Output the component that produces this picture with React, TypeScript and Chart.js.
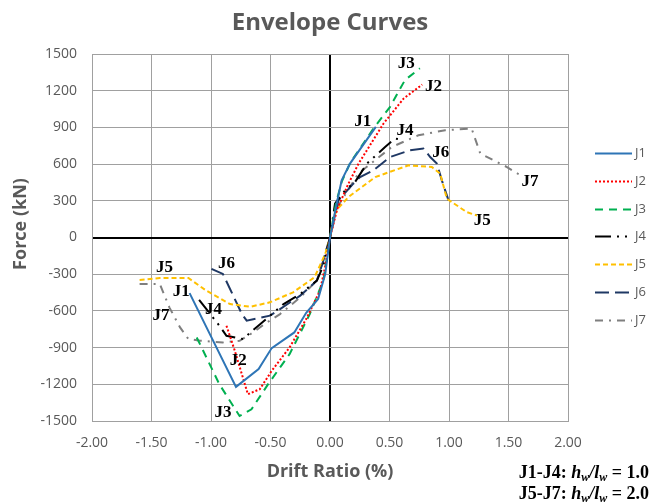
import React, { useEffect, useRef } from "react";
import { Chart, registerables } from "chart.js";

Chart.register(...registerables);

const TITLE = "Envelope Curves";
const X_TITLE = "Drift Ratio (%)";
const Y_TITLE = "Force (kN)";
const SERIES_NAMES = ["J1", "J2", "J3", "J4", "J5", "J6", "J7"];

const J1_DRIFT = [-1.18, -0.79, -0.6, -0.49, -0.3, -0.2, -0.1, -0.04, 0, 0.056, 0.098, 0.168, 0.385];
const J1_FORCE = [-455, -1221, -1076, -904, -776, -615, -503, -298, 0, 276, 467, 604, 904];

const J2_DRIFT = [-0.87, -0.8, -0.69, -0.59, -0.49, -0.34, -0.2, -0.084, -0.042, 0, 0.06, 0.15, 0.24, 0.45, 0.62, 0.775];
const J2_FORCE = [-721, -926, -1281, -1240, -1090, -899, -667, -434, -243, 0, 230, 430, 604, 932, 1137, 1250];

const J3_DRIFT = [-1.12, -0.93, -0.76, -0.66, -0.52, -0.34, -0.17, -0.056, 0, 0.05, 0.1, 0.17, 0.365, 0.505, 0.63, 0.755];
const J3_FORCE = [-817, -1199, -1459, -1404, -1199, -954, -626, -352, 0, 280, 460, 610, 891, 1068, 1287, 1383];

const J4_DRIFT = [-1.1, -0.94, -0.87, -0.73, -0.62, -0.52, -0.39, -0.25, -0.11, -0.056, 0, 0.042, 0.126, 0.21, 0.31, 0.463, 0.547, 0.6];
const J4_FORCE = [-510, -708, -803, -830, -735, -653, -544, -462, -352, -230, 0, 276, 385, 453, 604, 740, 809, 800];

const J5_DRIFT = [-1.6, -1.43, -1.19, -1.04, -0.84, -0.67, -0.505, -0.31, -0.13, -0.04, 0, 0.03, 0.07, 0.154, 0.38, 0.66, 0.856, 0.926, 0.982, 1.15, 1.235];
const J5_FORCE = [-347, -331, -331, -434, -544, -566, -530, -448, -325, -134, 0, 170, 240, 330, 494, 590, 576, 522, 317, 207, 180];

const J6_DRIFT = [-0.996, -0.9, -0.74, -0.7, -0.505, -0.42, -0.25, -0.11, -0.056, 0, 0.07, 0.196, 0.253, 0.365, 0.505, 0.673, 0.785, 0.842, 0.898, 0.94, 0.996];
const J6_FORCE = [-257, -298, -626, -680, -639, -585, -475, -352, -189, 0, 303, 440, 494, 549, 658, 713, 727, 658, 604, 467, 303];

const J7_DRIFT = [-1.6, -1.43, -1.35, -1.26, -1.19, -1.09, -0.9, -0.76, -0.645, -0.53, -0.42, -0.25, -0.11, 0, 0.05, 0.238, 0.519, 0.743, 0.968, 1.19, 1.263, 1.487, 1.6];
const J7_FORCE = [-380, -380, -571, -735, -830, -844, -858, -844, -776, -694, -626, -489, -352, 0, 230, 522, 740, 836, 877, 891, 686, 576, 508];

const X_TICKS_MIN = -2;
const X_TICKS_MAX = 2;
const X_STEP = 0.5;
const Y_TICKS_MIN = -1500;
const Y_TICKS_MAX = 1500;
const Y_STEP = 300;

// On-chart label anchors (data units)
const LABEL_TEXT = ["J3", "J2", "J1", "J4", "J6", "J7", "J5", "J5", "J6", "J1", "J4", "J7", "J2", "J3"];
const LABEL_DRIFT = [0.64, 0.87, 0.275, 0.63, 0.93, 1.68, 1.28, -1.39, -0.87, -1.25, -0.98, -1.42, -0.77, -0.9];
const LABEL_FORCE = [1418, 1232, 945, 871, 691, 453, 139, -243, -216, -443, -593, -639, -1008, -1432];

const NOTE_GROUPS = ["J1-J4: ", "J5-J7: "];
const NOTE_RATIOS = [" = 1.0", " = 2.0"];

const COLORS = ["#2E75B6", "#FF0000", "#00B050", "#000000", "#FFC000", "#1F3864", "#7F7F7F"];
const DASHES: number[][] = [[], [2, 2], [8, 6], [16, 6, 2, 6, 2, 6], [5, 3], [14, 6], [8, 6, 2, 6]];

const DRIFTS = [J1_DRIFT, J2_DRIFT, J3_DRIFT, J4_DRIFT, J5_DRIFT, J6_DRIFT, J7_DRIFT];
const FORCES = [J1_FORCE, J2_FORCE, J3_FORCE, J4_FORCE, J5_FORCE, J6_FORCE, J7_FORCE];

const GRID = "#a0a0a0";
const TEXT_GRAY = "#595959";

type Part = { t: string; f: string; dy?: number };

function richWidth(ctx: CanvasRenderingContext2D, parts: Part[]) {
  let w = 0;
  for (const p of parts) {
    ctx.font = p.f;
    w += ctx.measureText(p.t).width;
  }
  return w;
}

function drawRich(ctx: CanvasRenderingContext2D, parts: Part[], xLeft: number, y: number) {
  let x = xLeft;
  for (const p of parts) {
    ctx.font = p.f;
    ctx.fillText(p.t, x, y + (p.dy || 0));
    x += ctx.measureText(p.t).width;
  }
}

const overlay = {
  id: "overlay",
  afterDraw(chart: any) {
    const ctx: CanvasRenderingContext2D = chart.ctx;
    const xs = chart.scales.x;
    const ys = chart.scales.y;
    const area = chart.chartArea;
    ctx.save();
    // title
    ctx.fillStyle = TEXT_GRAY;
    ctx.textAlign = "center";
    ctx.textBaseline = "alphabetic";
    ctx.font = 'bold 24px "Open Sans"';
    ctx.fillText(TITLE, (area.left + area.right) / 2, 30);
    // axis titles
    ctx.font = 'bold 18px "Open Sans"';
    ctx.textBaseline = "middle";
    ctx.fillText(X_TITLE, (area.left + area.right) / 2, 472);
    ctx.save();
    ctx.translate(21, 224);
    ctx.rotate(-Math.PI / 2);
    ctx.fillText(Y_TITLE, 0, 0);
    ctx.restore();

    // legend
    const legX0 = 595, legX1 = 632;
    const legY0 = 153, legStep = 27.8;
    ctx.textAlign = "left";
    ctx.font = '13px "Open Sans"';
    SERIES_NAMES.forEach((name, i) => {
      const yy = Math.round(legY0 + i * legStep) + 0.5;
      ctx.strokeStyle = COLORS[i];
      ctx.lineWidth = 2;
      ctx.setLineDash(DASHES[i]);
      ctx.beginPath();
      ctx.moveTo(legX0, yy);
      ctx.lineTo(legX1, yy);
      ctx.stroke();
      ctx.setLineDash([]);
      ctx.fillStyle = TEXT_GRAY;
      ctx.fillText(name, legX1 + 3, yy);
    });

    // on-chart labels
    ctx.fillStyle = "#000";
    ctx.textAlign = "center";
    ctx.textBaseline = "middle";
    ctx.font = 'bold 17px "Liberation Serif"';
    LABEL_TEXT.forEach((t, i) => {
      ctx.fillText(t, xs.getPixelForValue(LABEL_DRIFT[i]), ys.getPixelForValue(LABEL_FORCE[i]));
    });

    // ratio notes
    ctx.textAlign = "left";
    ctx.textBaseline = "alphabetic";
    const B = 'bold 18px "Liberation Serif"';
    const BI = 'bold italic 18px "Liberation Serif"';
    const SUB = 'bold italic 12px "Liberation Serif"';
    NOTE_GROUPS.forEach((g, i) => {
      const parts: Part[] = [
        { t: g, f: B }, { t: "h", f: BI }, { t: "w", f: SUB, dy: 3 }, { t: "/", f: BI }, { t: "l", f: BI }, { t: "w", f: SUB, dy: 3 }, { t: NOTE_RATIOS[i], f: B },
      ];
      const w = richWidth(ctx, parts);
      drawRich(ctx, parts, 649 - w, 478 + i * 21);
    });
    ctx.restore();
  },
};

export default function App() {
  const ref = useRef<HTMLCanvasElement | null>(null);
  useEffect(() => {
    if (!ref.current) return;
    const datasets = SERIES_NAMES.map((name, i) => ({
      label: name,
      data: DRIFTS[i].map((d, k) => ({ x: d, y: FORCES[i][k] })),
      borderColor: COLORS[i],
      backgroundColor: COLORS[i],
      borderWidth: 2,
      borderDash: DASHES[i],
      pointRadius: 0,
      showLine: true,
      fill: false,
      tension: 0,
    }));
    const chart = new Chart(ref.current, {
      type: "scatter",
      data: { datasets },
      options: {
        responsive: false,
        animation: false,
        layout: { padding: { left: 0, right: 84, top: 54, bottom: 0 } },
        plugins: { legend: { display: false }, title: { display: false }, tooltip: { enabled: false } },
        scales: {
          x: {
            type: "linear",
            min: X_TICKS_MIN,
            max: X_TICKS_MAX,
            ticks: {
              stepSize: X_STEP,
              callback: (v: any) => Number(v).toFixed(2),
              color: TEXT_GRAY,
              font: { family: "Open Sans", size: 14 },
              padding: 14,
              maxRotation: 0,
            },
            grid: {
              color: (c: any) => (c.tick && c.tick.value === 0 ? "#000" : GRID),
              lineWidth: (c: any) => (c.tick && c.tick.value === 0 ? 2 : 1),
              drawTicks: false,
            },
            border: { color: GRID },
            afterFit: (s: any) => { s.height = 81; },
          },
          y: {
            type: "linear",
            min: Y_TICKS_MIN,
            max: Y_TICKS_MAX,
            ticks: {
              stepSize: Y_STEP,
              callback: (v: any) => String(v),
              color: TEXT_GRAY,
              font: { family: "Open Sans", size: 14 },
              padding: 15,
            },
            grid: {
              color: (c: any) => (c.tick && c.tick.value === 0 ? "#000" : GRID),
              lineWidth: (c: any) => (c.tick && c.tick.value === 0 ? 2 : 1),
              drawTicks: false,
            },
            border: { color: GRID },
            afterFit: (s: any) => { s.width = 92; },
          },
        },
      },
      plugins: [overlay],
    });
    return () => chart.destroy();
  }, []);
  return (
    <div style={{ position: "absolute", left: 0, top: 0, width: 652, height: 502, background: "#fff" }}>
      <canvas ref={ref} width={652} height={502} style={{ width: 652, height: 502 }} />
    </div>
  );
}
